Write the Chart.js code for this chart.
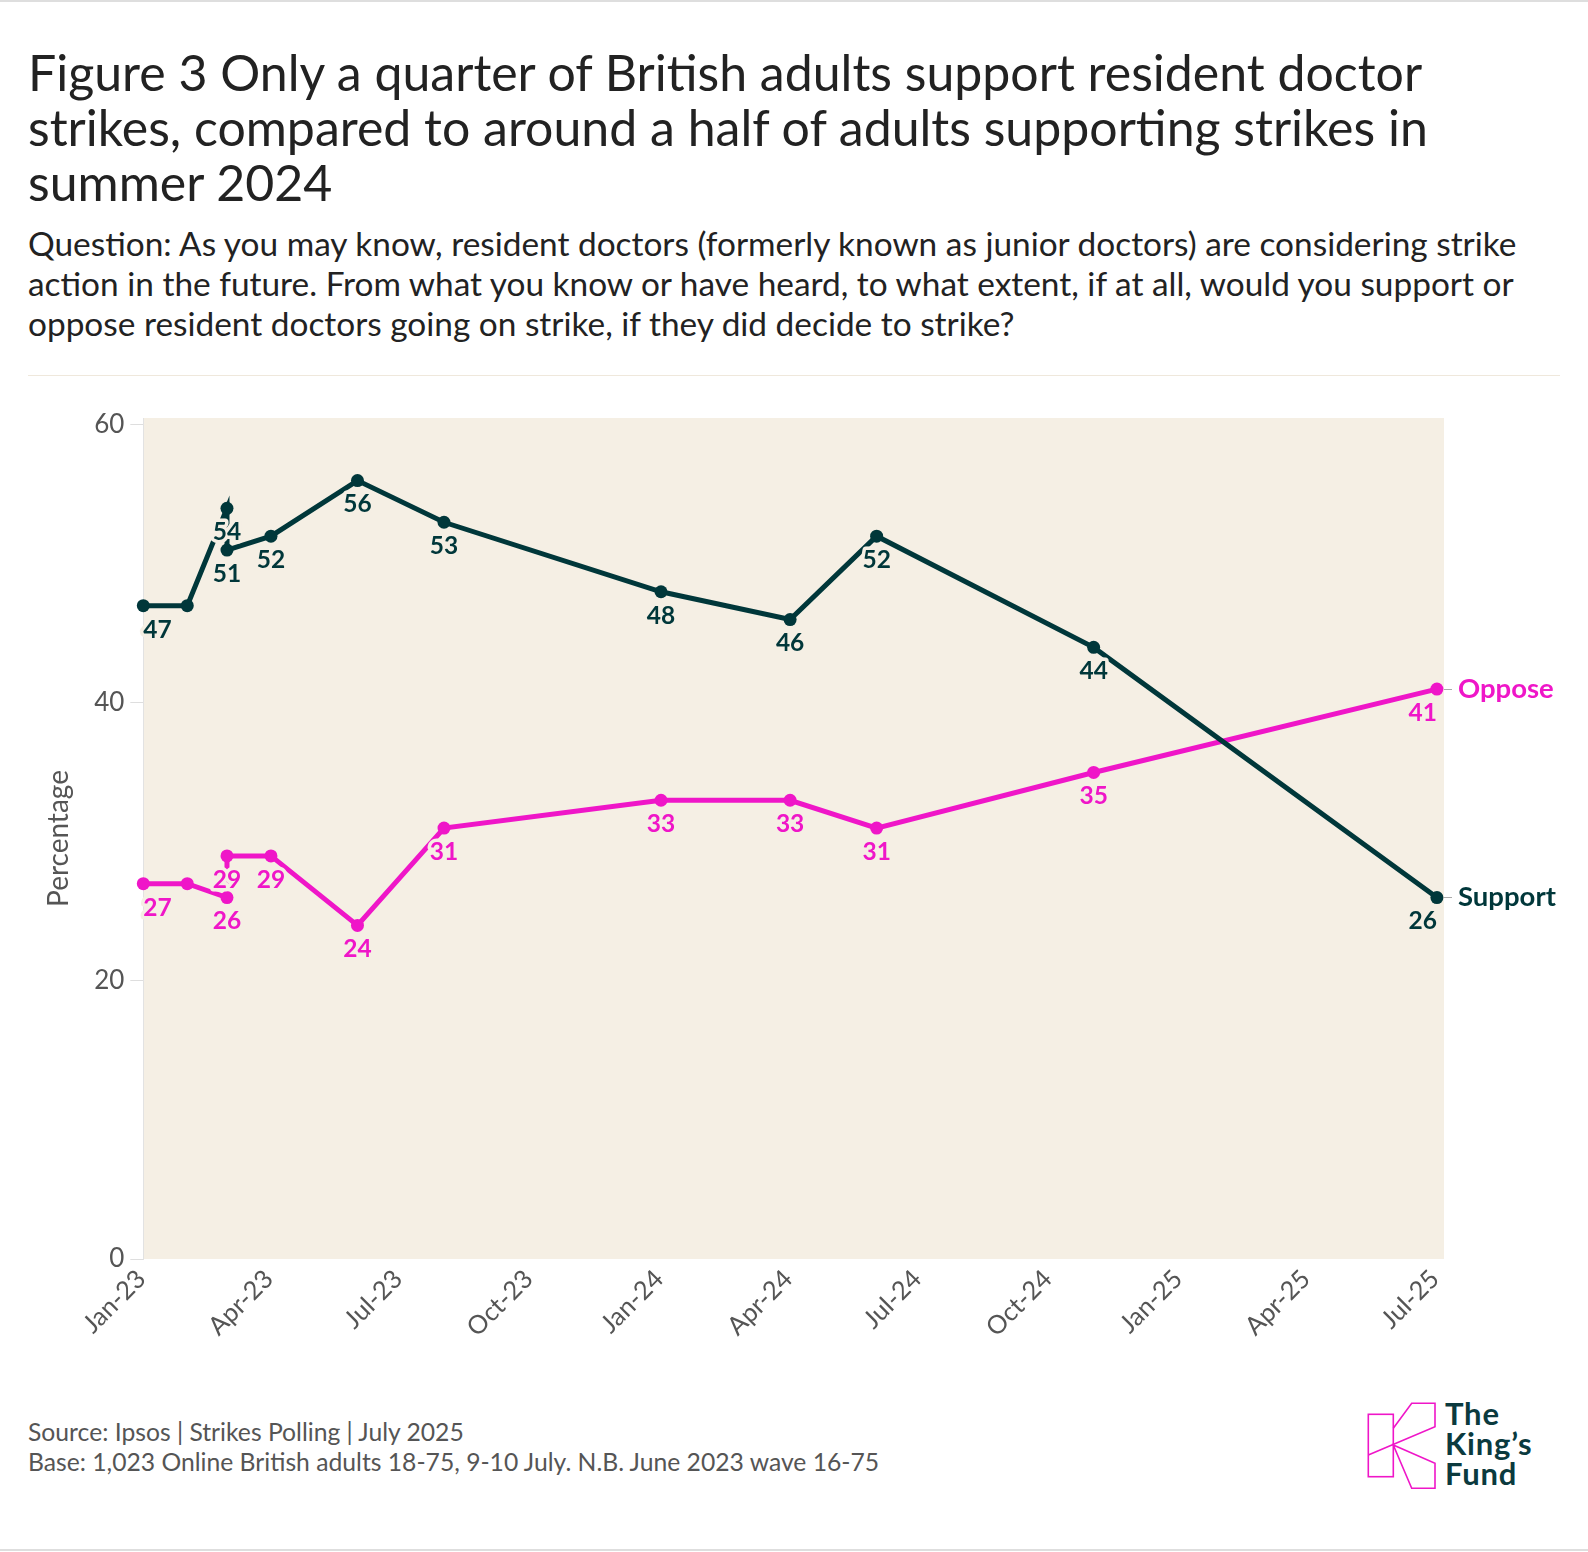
<!DOCTYPE html>
<html>
<head>
<meta charset="utf-8">
<script src="https://cdn.jsdelivr.net/npm/chart.js@4.4.1/dist/chart.umd.min.js"></script>
<style>
  body { margin: 0; background: #fff; font-family: Lato, "Noto Sans", sans-serif; }
  #page { position: relative; width: 1588px; height: 1552px; overflow: hidden; }
  .rule-top { position: absolute; left: 0; top: 0; width: 1588px; height: 2px; background: #dedede; }
  .rule-bottom { position: absolute; left: 0; top: 1549px; width: 1588px; height: 2px; background: #dedede; }
  h1 { position: absolute; left: 28px; top: 45px; margin: 0; font-weight: 400; font-size: 50px; line-height: 55px; color: #222; white-space: nowrap; }
  .question { position: absolute; left: 28px; top: 223px; margin: 0; font-size: 33.4px; line-height: 40px; color: #222; white-space: nowrap; }
  .sep { position: absolute; left: 28px; top: 375px; width: 1532px; height: 1px; background: #efe8dc; }
  #chart { position: absolute; left: 0; top: 390px; }
  .foot { position: absolute; left: 28px; top: 1417px; font-size: 24.7px; line-height: 30px; color: #555; white-space: nowrap; }
  .logo-text { position: absolute; left: 1445px; top: 1398px; font-size: 31px; line-height: 30px; font-weight: 700; color: #0b3a3e; letter-spacing: 0.8px; }
  .logo-k { position: absolute; left: 1350px; top: 1370px; }
</style>
</head>
<body>
<div id="page">
  <div class="rule-top"></div>
  <h1>Figure 3 Only a quarter of British adults support resident doctor<br>strikes, compared to around a half of adults supporting strikes in<br>summer 2024</h1>
  <p class="question">Question: As you may know, resident doctors (formerly known as junior doctors) are considering strike<br>action in the future. From what you know or have heard, to what extent, if at all, would you support or<br>oppose resident doctors going on strike, if they did decide to strike?</p>
  <div class="sep"></div>
  <canvas id="chart" width="1588" height="960"></canvas>
  <div class="foot">Source: Ipsos | Strikes Polling | July 2025<br>Base: 1,023 Online British adults 18-75, 9-10 July. N.B. June 2023 wave 16-75</div>
  <svg class="logo-k" width="90" height="125" viewBox="0 0 90 125">
    <g fill="none" stroke="#ef16c8" stroke-width="1.6" stroke-linejoin="miter">
      <rect x="18.3" y="44.3" width="25" height="62.4"/>
      <polyline points="43.3,58.3 61.7,33.3 85,33.3 85,56.7 18.3,85"/>
      <polygon points="43.3,75 85,93.3 85,118.3 61.7,118.3"/>
    </g>
  </svg>
  <div class="logo-text">The<br>King’s<br>Fund</div>
  <div class="rule-bottom"></div>
</div>
<script>
// poll waves (first of month), values in %
const pollDates = ['2023-01-01','2023-02-01','2023-03-01','2023-03-01','2023-04-01','2023-06-01',
                   '2023-08-01','2024-01-01','2024-04-01','2024-06-01','2024-11-01','2025-07-01'];
const supportPct = [47, 47, 54, 51, 52, 56, 53, 48, 46, 52, 44, 26];
const opposePct  = [27, 27, 26, 29, 29, 24, 31, 33, 33, 31, 35, 41];
const seriesNames = ['Support', 'Oppose'];

const tickDates  = ['2023-01-01','2023-04-01','2023-07-01','2023-10-01','2024-01-01','2024-04-01',
                    '2024-07-01','2024-10-01','2025-01-01','2025-04-01','2025-07-01'];
const tickLabels = ['Jan-23','Apr-23','Jul-23','Oct-23','Jan-24','Apr-24',
                    'Jul-24','Oct-24','Jan-25','Apr-25','Jul-25'];
const yTicks = [0, 20, 40, 60];

const GREEN = '#00373a', PINK = '#ef16c8', PLOT_BG = '#f5efe4';
const DAY0 = Date.UTC(2023, 0, 1);
const toDay = s => (Date.parse(s + 'T00:00:00Z') - DAY0) / 86400000;

const toPoints = vals => pollDates.map((d, i) => ({ x: toDay(d), y: vals[i] }));

// series end labels on the right axis
const ends = [
  { name: seriesNames[1], value: opposePct[opposePct.length - 1], color: PINK },
  { name: seriesNames[0], value: supportPct[supportPct.length - 1], color: GREEN }
];

Chart.defaults.font.family = 'Lato, "Noto Sans", sans-serif';

const plotBg = {
  id: 'plotBg',
  beforeDraw(chart) {
    const a = chart.chartArea, c = chart.ctx;
    c.save();
    c.fillStyle = PLOT_BG;
    c.fillRect(a.left, a.top, a.right - a.left, a.bottom - a.top);
    c.restore();
  }
};

// value labels under each point, halo in the plot colour, crowded ones dropped
const valueLabels = {
  id: 'valueLabels',
  afterDatasetsDraw(chart) {
    const c = chart.ctx;
    c.save();
    c.font = 'bold 24.5px Lato, "Noto Sans", sans-serif';
    c.textAlign = 'center';
    c.textBaseline = 'middle';
    c.lineJoin = 'round';
    chart.data.datasets.forEach((ds, i) => {
      const pts = chart.getDatasetMeta(i).data;
      const first = pts[0].x, last = pts[pts.length - 1].x;
      const placed = [];
      pts.forEach((p, j) => {
        const t = String(ds.data[j].y);
        const w = c.measureText(t).width;
        const x = Math.min(Math.max(p.x, first + w / 2), last - w / 2);
        const y = p.y + 24;
        const box = { l: x - w / 2 - 4, r: x + w / 2 + 4, t: y - 12, b: y + 12 };
        if (placed.some(q => box.l < q.r && box.r > q.l && box.t < q.b && box.b > q.t)) return;
        placed.push(box);
        c.strokeStyle = PLOT_BG;
        c.lineWidth = 7;
        c.strokeText(t, x, y);
        c.fillStyle = ds.borderColor;
        c.fillText(t, x, y);
      });
    });
    c.restore();
  }
};

new Chart(document.getElementById('chart'), {
  type: 'line',
  data: {
    datasets: [
      {
        label: seriesNames[0], data: toPoints(supportPct),
        borderColor: GREEN, backgroundColor: GREEN, pointBackgroundColor: GREEN,
        borderWidth: 5, pointRadius: 6.5, pointBorderWidth: 0, tension: 0, clip: false
      },
      {
        label: seriesNames[1], data: toPoints(opposePct),
        borderColor: PINK, backgroundColor: PINK, pointBackgroundColor: PINK,
        borderWidth: 5, pointRadius: 6.5, pointBorderWidth: 0, tension: 0, clip: false
      }
    ]
  },
  options: {
    responsive: false,
    animation: false,
    layout: { padding: { left: 40, top: 28, right: 0, bottom: 0 } },
    plugins: { legend: { display: false }, tooltip: { enabled: false } },
    scales: {
      x: {
        type: 'linear', min: 0, max: 917,
        grid: { display: false }, border: { display: false },
        afterBuildTicks: ax => { ax.ticks = tickDates.map(d => ({ value: toDay(d) })); },
        ticks: {
          callback: (v, i) => tickLabels[i], autoSkip: false,
          minRotation: 45, maxRotation: 45, padding: -3, labelOffset: -2,
          color: '#555', font: { size: 25.5 }
        },
        afterFit: s => { s.height = 91; }
      },
      y: {
        type: 'linear', position: 'left', min: 0, max: 60.5,
        afterBuildTicks: ax => { ax.ticks = yTicks.map(v => ({ value: v })); },
        grid: { drawOnChartArea: false, tickLength: 13, color: '#dedede' },
        border: { color: '#e2e2e2' },
        ticks: { padding: 6, color: '#555', font: { size: 26 } },
        title: { display: true, text: 'Percentage', color: '#555', font: { size: 28 }, padding: { top: 2, bottom: 4 } },
        afterFit: s => { s.width = 103.3; }
      },
      y2: {
        type: 'linear', position: 'right', min: 0, max: 60.5,
        afterBuildTicks: ax => { ax.ticks = ends.map(e => ({ value: e.value })); },
        grid: { drawOnChartArea: false, tickLength: 8, color: '#aaaaaa' },
        border: { display: false },
        ticks: {
          callback: (v, i) => ends[i].name,
          color: c => ends[c.index] ? ends[c.index].color : '#555',
          font: { size: 27.5, weight: 'bold' }, padding: 6
        },
        afterFit: s => { s.width = 144; }
      }
    }
  },
  plugins: [plotBg, valueLabels]
});
</script>
</body>
</html>
